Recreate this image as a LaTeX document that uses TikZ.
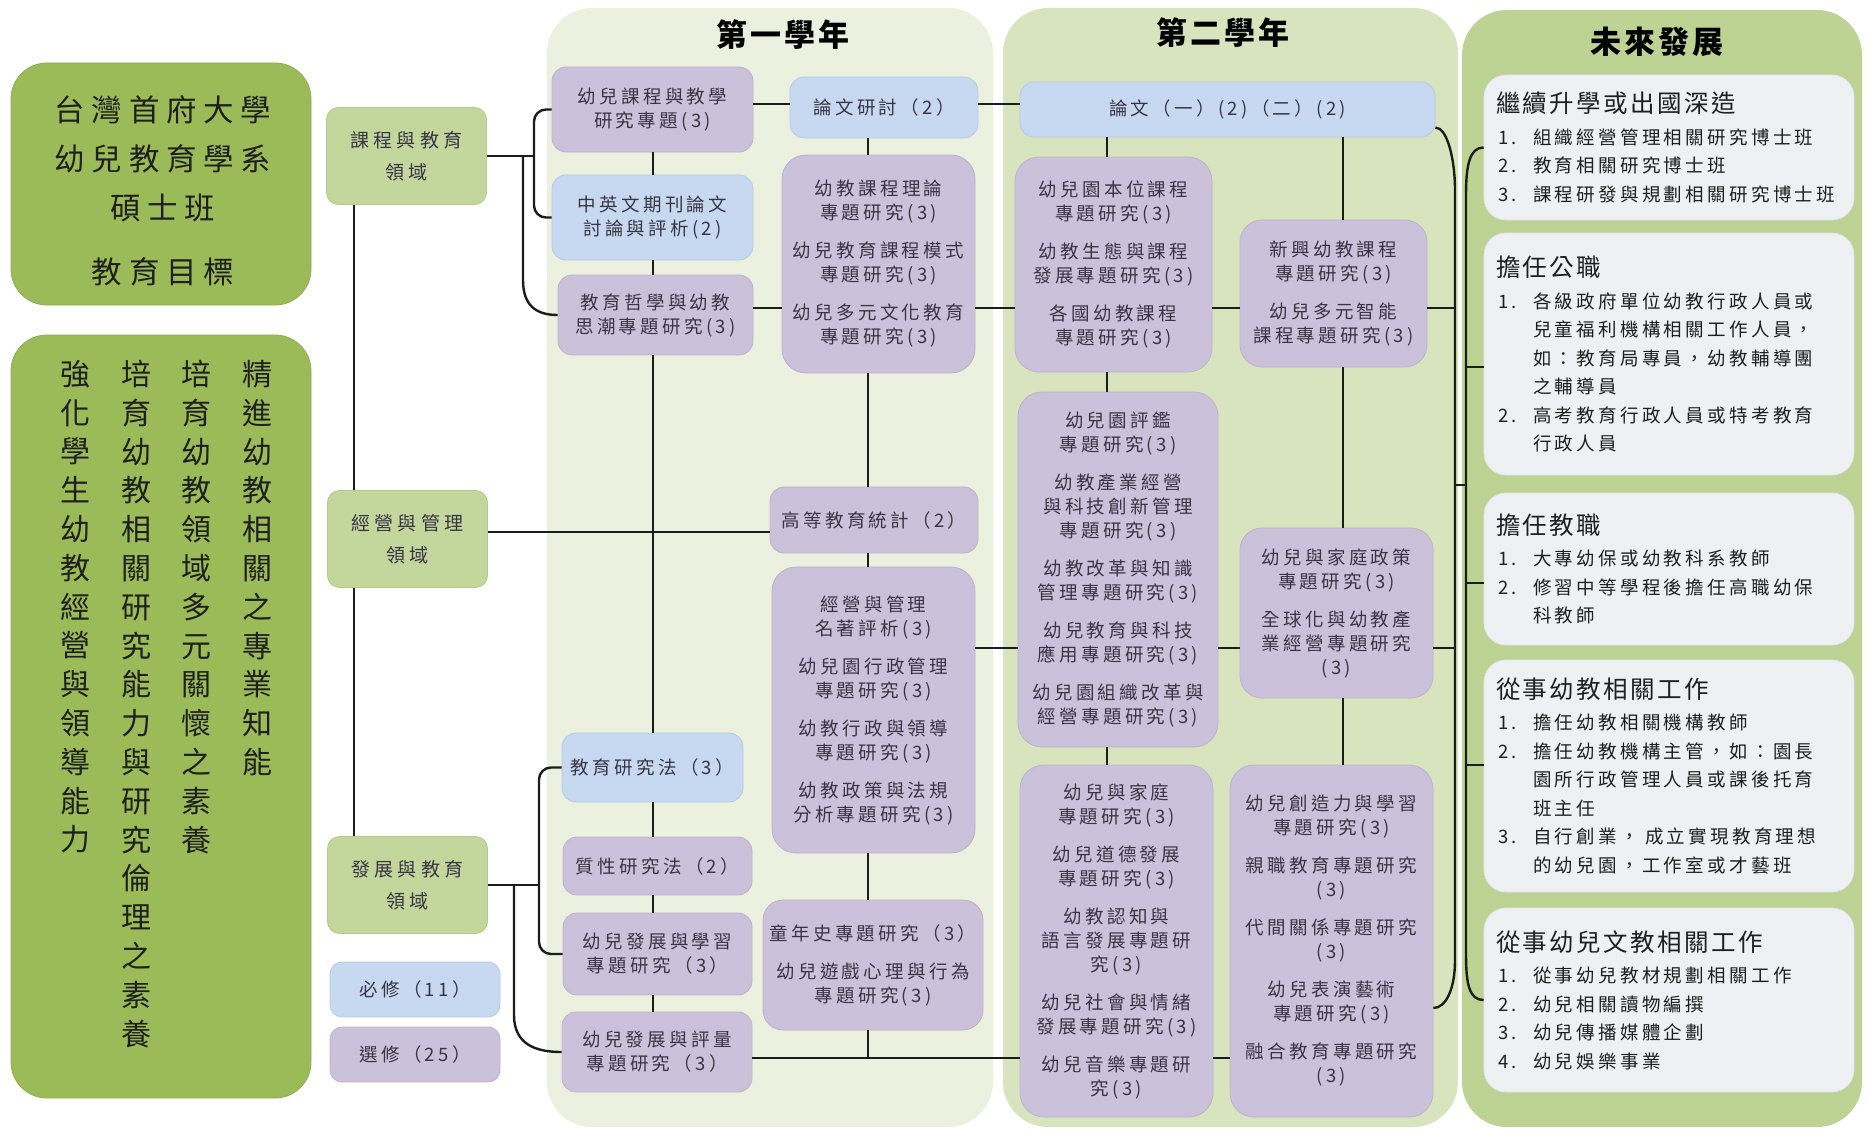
\documentclass[tikz,border=0pt]{standalone}
\usepackage{fontspec}
\usepackage{tikz}

\newfontfamily\cjk{Noto Sans CJK TC}
\newfontfamily\cjksp{Noto Sans CJK TC}[LetterSpace=18]
\newfontfamily\cjkfld{Noto Sans CJK TC}[LetterSpace=22]
\newfontfamily\cjkttl{Noto Sans CJK TC}[LetterSpace=22]
\newfontfamily\cjkhd{Noto Sans CJK TC}[LetterSpace=10]
\newfontfamily\cjkyr{Noto Sans CJK TC}[LetterSpace=10]

\newcommand{\crsfont}{\cjksp\fontsize{18.5}{24}\selectfont}
\newcommand{\fldfont}{\cjkfld\fontsize{19}{32}\selectfont}
\newcommand{\ttlfont}{\cjkttl\fontsize{30.5}{49}\selectfont}
\newcommand{\goalfont}{\cjk\fontsize{30}{38.8}\selectfont}
\newcommand{\yrfont}{\cjkyr\bfseries\fontsize{31}{36}\selectfont}
\newcommand{\futfont}{\cjksp\fontsize{18.5}{28.5}\selectfont}
\newcommand{\futh}{\cjkhd\fontsize{24.5}{28.5}\selectfont}
\newcommand{\nitm}[2]{\makebox[37pt][l]{\hspace{2pt}#1}#2}
\newcommand{\citm}[1]{\hspace*{37pt}#1}

\definecolor{olive}{HTML}{9BBB59}
\definecolor{olived}{HTML}{8EAD50}
\definecolor{fldg}{HTML}{C3D69B}
\definecolor{fldgd}{HTML}{B5C98D}
\definecolor{pan1}{HTML}{EBF1DE}
\definecolor{pan2}{HTML}{D7E4BD}
\definecolor{pan3}{HTML}{BDD393}
\definecolor{crsp}{HTML}{CCC1DA}
\definecolor{crspd}{HTML}{BEB2CF}
\definecolor{crsb}{HTML}{C6D9F1}
\definecolor{crsbd}{HTML}{B6CAE6}
\definecolor{futb}{HTML}{EEF0F4}
\definecolor{futbd}{HTML}{E0E4EA}
\definecolor{txt}{HTML}{3A3545}
\definecolor{dk}{HTML}{1F1F1F}
\definecolor{lnk}{HTML}{1C1C1C}

\begin{document}
\begin{tikzpicture}[x=1pt, y=-1pt,
  crs/.style={rounded corners=14pt, fill=crsp, draw=crspd, line width=0.8pt, align=center, font=\crsfont, text=txt, inner sep=0pt},
  req/.style={crs, fill=crsb, draw=crsbd},
  fld/.style={rounded corners=12pt, fill=fldg, draw=fldgd, line width=0.8pt, align=center, font=\fldfont, text=txt, minimum width=160pt, minimum height=97pt},
  goal/.style={rounded corners=36pt, fill=olive, draw=olived, line width=0.8pt, minimum width=300pt},
  vcol/.style={align=center, font=\goalfont, text=dk, inner sep=0pt, anchor=north},
  yr/.style={font=\yrfont, text=black},
  fut/.style={rounded corners=22pt, fill=futb, draw=futbd, line width=0.8pt, align=left, text width=346pt, inner xsep=12pt, font=\futfont, text=dk},
  link/.style={draw=lnk, line width=2.4pt}
]
\useasboundingbox (0,0) rectangle (1870,1129);
\fill[white] (0,0) rectangle (1870,1129);

% year panels
\fill[pan1, rounded corners=45pt] (547,8) rectangle (993,1127);
\fill[pan2, rounded corners=45pt] (1003,8) rectangle (1458,1127);
\fill[pan3, rounded corners=45pt] (1462,10) rectangle (1862,1127);

\node[yr] (yr1) at (783,35) {第一學年};
\node[yr] (yr2) at (1223,33) {第二學年};
\node[yr] (yr3) at (1657,42) {未來發展};

% left column
\node[goal, minimum height=242pt] (tbox) at (161,184) {};
\node[align=center, font=\ttlfont, text=dk, inner sep=0pt] (ttext) at (163,191) {台灣首府大學\\幼兒教育學系\\碩士班\\[15pt]教育目標};
\node[goal, minimum height=763pt] (gbox) at (161,716.5) {};
\node[vcol] (g1) at (75,360) {強\\化\\學\\生\\幼\\教\\經\\營\\與\\領\\導\\能\\力};
\node[vcol] (g2) at (136,360) {培\\育\\幼\\教\\相\\關\\研\\究\\能\\力\\與\\研\\究\\倫\\理\\之\\素\\養};
\node[vcol] (g3) at (196,360) {培\\育\\幼\\教\\領\\域\\多\\元\\關\\懷\\之\\素\\養};
\node[vcol] (g4) at (257,360) {精\\進\\幼\\教\\相\\關\\之\\專\\業\\知\\能};

% fields
\node[fld] (F1) at (406.5,156) {課程與教育\\領域};
\node[fld] (F2) at (407.5,539) {經營與管理\\領域};
\node[fld] (F3) at (407.5,885) {發展與教育\\領域};
\node[req, minimum width=170pt, minimum height=55pt, rounded corners=12pt] (must) at (415,989.5) {必修（11）};
\node[crs, minimum width=170pt, minimum height=55pt, rounded corners=12pt] (opt) at (415,1054.5) {選修（25）};

% first year, left
\node[crs, minimum width=201pt, minimum height=85pt] (A1) at (652.5,109.5) {幼兒課程與教學\\研究專題(3)};
\node[req, minimum width=201pt, minimum height=85pt] (A2) at (652.5,217.5) {中英文期刊論文\\討論與評析(2)};
\node[crs, minimum width=195pt, minimum height=80pt] (A3) at (655.5,315) {教育哲學與幼教\\思潮專題研究(3)};
\node[req, minimum width=181pt, minimum height=69pt] (A4) at (652.5,767.5) {教育研究法（3）};
\node[crs, minimum width=189pt, minimum height=58pt] (A5) at (657.5,866) {質性研究法（2）};
\node[crs, minimum width=189pt, minimum height=82pt] (A6) at (657.5,954) {幼兒發展與學習\\專題研究（3）};
\node[crs, minimum width=190pt, minimum height=80pt] (A7) at (657,1052) {幼兒發展與評量\\專題研究（3）};

% first year, right
\node[req, minimum width=188pt, minimum height=61pt] (B1) at (884,107.5) {論文研討（2）};
\node[crs, minimum width=193pt, minimum height=218pt, rounded corners=24pt] (B2) at (878.5,264) {幼教課程理論\\專題研究(3)\\[14pt]幼兒教育課程模式\\專題研究(3)\\[14pt]幼兒多元文化教育\\專題研究(3)};
\node[crs, minimum width=208pt, minimum height=66pt] (B3) at (874,520) {高等教育統計（2）};
\node[crs, minimum width=203pt, minimum height=286pt, rounded corners=24pt] (B4) at (873.5,710) {經營與管理\\名著評析(3)\\[14pt]幼兒園行政管理\\專題研究(3)\\[14pt]幼教行政與領導\\專題研究(3)\\[14pt]幼教政策與法規\\分析專題研究(3)};
\node[crs, minimum width=220pt, minimum height=130pt, rounded corners=20pt] (B5) at (873,965) {童年史專題研究（3）\\[14pt]幼兒遊戲心理與行為\\專題研究(3)};

% second year
\node[req, minimum width=415pt, minimum height=55pt] (C1) at (1227.5,109.5) {論文（一）(2)（二）(2)};
\node[crs, minimum width=197pt, minimum height=215pt, rounded corners=24pt] (C2) at (1113.5,264.5) {幼兒園本位課程\\專題研究(3)\\[14pt]幼教生態與課程\\發展專題研究(3)\\[14pt]各國幼教課程\\專題研究(3)};
\node[crs, minimum width=187pt, minimum height=147pt, rounded corners=22pt] (C4) at (1333.5,293.5) {新興幼教課程\\專題研究(3)\\[14pt]幼兒多元智能\\課程專題研究(3)};
\node[crs, minimum width=200pt, minimum height=355pt, rounded corners=24pt] (C3) at (1118,569.5) {幼兒園評鑑\\專題研究(3)\\[14pt]幼教產業經營\\與科技創新管理\\專題研究(3)\\[14pt]幼教改革與知識\\管理專題研究(3)\\[14pt]幼兒教育與科技\\應用專題研究(3)\\[14pt]幼兒園組織改革與\\經營專題研究(3)};
\node[crs, minimum width=193pt, minimum height=170pt, rounded corners=22pt] (C5) at (1336.5,613) {幼兒與家庭政策\\專題研究(3)\\[14pt]全球化與幼教產\\業經營專題研究\\(3)};
\node[crs, minimum width=193pt, minimum height=352pt, rounded corners=24pt] (C6) at (1116.5,941) {幼兒與家庭\\專題研究(3)\\[14pt]幼兒道德發展\\專題研究(3)\\[14pt]幼教認知與\\語言發展專題研\\究(3)\\[14pt]幼兒社會與情緒\\發展專題研究(3)\\[14pt]幼兒音樂專題研\\究(3)};
\node[crs, minimum width=203pt, minimum height=352pt, rounded corners=24pt] (C7) at (1331.5,941) {幼兒創造力與學習\\專題研究(3)\\[14pt]親職教育專題研究\\(3)\\[14pt]代間關係專題研究\\(3)\\[14pt]幼兒表演藝術\\專題研究(3)\\[14pt]融合教育專題研究\\(3)};

% future
\node[fut, minimum height=145pt] (G1) at (1669,147.5) {{\futh 繼續升學或出國深造}\\[3pt]
  \nitm{1.}{組織經營管理相關研究博士班}\\
  \nitm{2.}{教育相關研究博士班}\\
  \nitm{3.}{課程研發與規劃相關研究博士班}};
\node[fut, minimum height=242pt] (G2) at (1669,354) {{\futh 擔任公職}\\[3pt]
  \nitm{1.}{各級政府單位幼教行政人員或}\\
  \citm{兒童福利機構相關工作人員，}\\
  \citm{如：教育局專員，幼教輔導團}\\
  \citm{之輔導員}\\
  \nitm{2.}{高考教育行政人員或特考教育}\\
  \citm{行政人員}};
\node[fut, minimum height=152pt] (G3) at (1669,569) {{\futh 擔任教職}\\[3pt]
  \nitm{1.}{大專幼保或幼教科系教師}\\
  \nitm{2.}{修習中等學程後擔任高職幼保}\\
  \citm{科教師}};
\node[fut, minimum height=232pt] (G4) at (1669,776) {{\futh 從事幼教相關工作}\\[3pt]
  \nitm{1.}{擔任幼教相關機構教師}\\
  \nitm{2.}{擔任幼教機構主管，如：園長}\\
  \citm{園所行政管理人員或課後托育}\\
  \citm{班主任}\\
  \nitm{3.}{自行創業， 成立實現教育理想}\\
  \citm{的幼兒園，工作室或才藝班}};
\node[fut, minimum height=184pt] (G5) at (1669,1000) {{\futh 從事幼兒文教相關工作}\\[3pt]
  \nitm{1.}{從事幼兒教材規劃相關工作}\\
  \nitm{2.}{幼兒相關讀物編撰}\\
  \nitm{3.}{幼兒傳播媒體企劃}\\
  \nitm{4.}{幼兒娛樂事業}};

% spines and rows
\coordinate (s0) at (354,0);
\coordinate (ax) at (653,0);
\coordinate (bx) at (868,0);
\coordinate (cx) at (1107,0);
\coordinate (dx) at (1343,0);
\coordinate (sp) at (1455,0);
\coordinate (r1) at (0,104);
\coordinate (r2) at (0,308);
\coordinate (r3) at (0,532);
\coordinate (r4) at (0,648);
\coordinate (r5) at (0,1058);
\coordinate (k1) at (534,156);
\coordinate (k2) at (523,156);
\coordinate (k3) at (539,885);
\coordinate (k4) at (514,885);
\coordinate (spt) at (1455,190);
\coordinate (spb) at (1455,960);
\coordinate (fj) at (1466,485);
\coordinate (fbt) at (1466,195);
\coordinate (fbb) at (1466,955);
\coordinate (fb2) at (1466,367);
\coordinate (fb3) at (1466,583);
\coordinate (fb4) at (1466,765);

% left connectors
\draw[link] (F1.south -| s0) -- (F2.north -| s0);
\draw[link] (F2.south -| s0) -- (F3.north -| s0);
\draw[link] (F1.east) -- (k1);
\draw[link, rounded corners=12pt] (A1.west) -| (k1) |- (A2.west);
\draw[link] (k2) -- ++(0,124) .. controls +(0,25) and +(-22,0) .. (A3.west);
\draw[link] (F3.east) -- (k3);
\draw[link, rounded corners=12pt] (A4.west) -| (k3) |- (A6.west);
\draw[link] (k4) -- ++(0,130) .. controls +(0,30) and +(-25,0) .. (A7.west);

% first year
\draw[link] (A1.south -| ax) -- (A2.north -| ax);
\draw[link] (A2.south -| ax) -- (A3.north -| ax);
\draw[link] (A3.south -| ax) -- (A4.north -| ax);
\draw[link] (A4.south -| ax) -- (A5.north -| ax);
\draw[link] (A5.south -| ax) -- (A6.north -| ax);
\draw[link] (A6.south -| ax) -- (A7.north -| ax);
\draw[link] (B1.south -| bx) -- (B2.north -| bx);
\draw[link] (B2.south -| bx) -- (B3.north -| bx);
\draw[link] (B3.south -| bx) -- (B4.north -| bx);
\draw[link] (B4.south -| bx) -- (B5.north -| bx);
\draw[link] (B5.south -| bx) -- (bx |- r5);

% rows
\draw[link] (A1.east |- r1) -- (B1.west |- r1);
\draw[link] (B1.east |- r1) -- (C1.west |- r1);
\draw[link] (A3.east |- r2) -- (B2.west |- r2);
\draw[link] (B2.east |- r2) -- (C2.west |- r2);
\draw[link] (C2.east |- r2) -- (C4.west |- r2);
\draw[link] (C4.east |- r2) -- (sp |- r2);
\draw[link] (F2.east |- r3) -- (B3.west |- r3);
\draw[link] (B4.east |- r4) -- (C3.west |- r4);
\draw[link] (C3.east |- r4) -- (C5.west |- r4);
\draw[link] (C5.east |- r4) -- (sp |- r4);
\draw[link] (A7.east |- r5) -- (C6.west |- r5);
\draw[link] (C6.east |- r5) -- (C7.west |- r5);

% second year
\draw[link] (C1.south -| cx) -- (C2.north -| cx);
\draw[link] (C2.south -| cx) -- (C3.north -| cx);
\draw[link] (C3.south -| cx) -- (C6.north -| cx);
\draw[link] (C1.south -| dx) -- (C4.north -| dx);
\draw[link] (C4.south -| dx) -- (C5.north -| dx);
\draw[link] (C5.south -| dx) -- (C7.north -| dx);
\draw[link] ([yshift=-18pt]C1.east) .. controls +(12,0) and +(0,-30) .. (spt) -- (spb) .. controls +(0,30) and +(12,0) .. ([yshift=-67pt]C7.east);

% future
\draw[link] (sp |- fj) -- (fj);
\draw[link] (G1.west) .. controls +(-14,0) and +(0,-30) .. (fbt) -- (fbb) .. controls +(0,30) and +(-14,0) .. (G5.west);
\draw[link] (fb2) -- (G2.west |- fb2);
\draw[link] (fb3) -- (G3.west |- fb3);
\draw[link] (fb4) -- (G4.west |- fb4);
\end{tikzpicture}
\end{document}
